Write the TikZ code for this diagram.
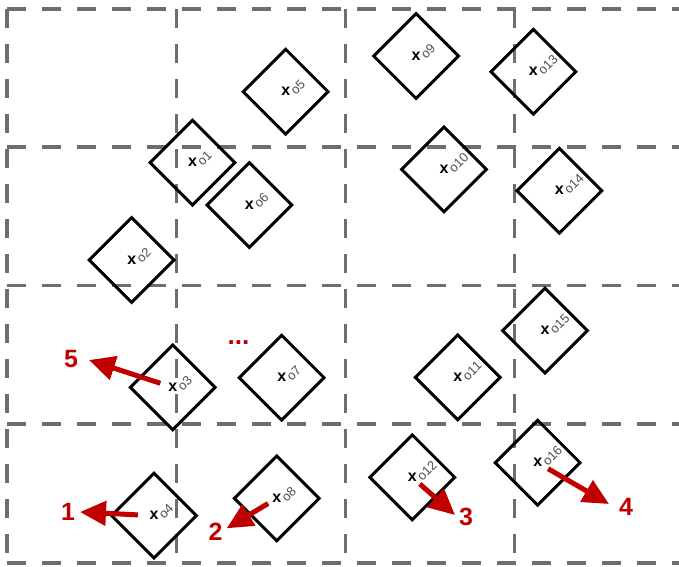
\documentclass[tikz,border=0pt]{standalone}
\usepackage{fontspec}
\setmainfont{Liberation Sans}
\usepackage{tikz}
\usetikzlibrary{shapes.geometric, arrows.meta}

\definecolor{gridgray}{HTML}{6E6E6E}
\definecolor{tagred}{HTML}{C00000}
\definecolor{taggray}{HTML}{505050}

\begin{document}
\begin{tikzpicture}[x=1pt, y=-1pt, line width=3pt,
    raster/.style={draw=gridgray, line width=3.5pt, dash pattern=on 19pt off 16pt},
    obj/.style={draw=black, diamond, aspect=1, minimum size=86pt, inner sep=0pt},
    cen/.style={font=\fontsize{16}{16}\selectfont\bfseries, inner sep=0pt},
    lab/.style={font=\fontsize{13}{13}\selectfont, text=taggray, rotate=45, anchor=base west, inner sep=0pt},
    mv/.style={draw=tagred, line width=5pt, -{Triangle[length=26pt, width=24pt]}},
    num/.style={font=\fontsize{25}{25}\selectfont\bfseries, text=tagred, inner sep=0pt}]

\useasboundingbox (0, 0) rectangle (679, 566);

% draw dashed grid
\draw[raster] (7, 9) -- (679, 9);
\draw[raster] (7, 147) -- (679, 147);
\draw[raster] (7, 285.5) -- (679, 285.5);
\draw[raster] (7, 424) -- (679, 424);
\draw[raster] (7, 563) -- (679, 563);
\draw[raster] (7, 9) -- (7, 563);
\draw[raster] (176.5, 9) -- (176.5, 563);
\draw[raster] (345.5, 9) -- (345.5, 563);
\draw[raster] (514.5, 9) -- (514.5, 563);

% draw objects
\node[obj] (b1) at (192.5, 162.7) {};
\node[obj] (b2) at (131.7, 260) {};
\node[obj] (b3) at (172.7, 387.3) {};
\node[obj] (b4) at (154, 515.7) {};
\node[obj] (b5) at (285.7, 91.7) {};
\node[obj] (b6) at (249.3, 205) {};
\node[obj] (b7) at (281.7, 377.7) {};
\node[obj] (b8) at (276.7, 498.3) {};
\node[obj] (b9) at (416, 56) {};
\node[obj] (b10) at (444, 169.3) {};
\node[obj] (b11) at (457.7, 377.3) {};
\node[obj] (b12) at (412.3, 477.3) {};
\node[obj] (b13) at (533.3, 71.7) {};
\node[obj] (b14) at (559.3, 190.7) {};
\node[obj] (b15) at (545, 330.7) {};
\node[obj] (b16) at (537.7, 462.7) {};

% draw centres
\node[cen] (c1) at (b1.center) {x};
\node[cen] (c2) at (b2.center) {x};
\node[cen] (c3) at (b3.center) {x};
\node[cen] (c4) at (b4.center) {x};
\node[cen] (c5) at (b5.center) {x};
\node[cen] (c6) at (b6.center) {x};
\node[cen] (c7) at (b7.center) {x};
\node[cen] (c8) at (b8.center) {x};
\node[cen] (c9) at (b9.center) {x};
\node[cen] (c10) at (b10.center) {x};
\node[cen] (c11) at (b11.center) {x};
\node[cen] (c12) at (b12.center) {x};
\node[cen] (c13) at (b13.center) {x};
\node[cen] (c14) at (b14.center) {x};
\node[cen] (c15) at (b15.center) {x};
\node[cen] (c16) at (b16.center) {x};

% draw tags
\node[lab] (t1) at ([shift={(9, 5)}]c1.center) {o1};
\node[lab] (t2) at ([shift={(9, 5)}]c2.center) {o2};
\node[lab] (t3) at ([shift={(9, 5)}]c3.center) {o3};
\node[lab] (t4) at ([shift={(9, 5)}]c4.center) {o4};
\node[lab] (t5) at ([shift={(9, 5)}]c5.center) {o5};
\node[lab] (t6) at ([shift={(9, 5)}]c6.center) {o6};
\node[lab] (t7) at ([shift={(9, 5)}]c7.center) {o7};
\node[lab] (t8) at ([shift={(9, 5)}]c8.center) {o8};
\node[lab] (t9) at ([shift={(9, 5)}]c9.center) {o9};
\node[lab] (t10) at ([shift={(9, 5)}]c10.center) {o10};
\node[lab] (t11) at ([shift={(9, 5)}]c11.center) {o11};
\node[lab] (t12) at ([shift={(9, 5)}]c12.center) {o12};
\node[lab] (t13) at ([shift={(9, 5)}]c13.center) {o13};
\node[lab] (t14) at ([shift={(9, 5)}]c14.center) {o14};
\node[lab] (t15) at ([shift={(9, 5)}]c15.center) {o15};
\node[lab] (t16) at ([shift={(9, 5)}]c16.center) {o16};

% draw moves
\coordinate (e1) at (80, 512);
\coordinate (e2) at (226.7, 528.3);
\coordinate (e3) at (455, 515);
\coordinate (e4) at (609, 504);
\coordinate (e5) at (89, 360);
\draw[mv, shorten <=16pt] (c4.center) -- (e1);
\draw[mv, shorten <=10pt] (c8.center) -- (e2);
\draw[mv, shorten <=10pt] (c12.center) -- (e3);
\draw[mv, shorten <=12pt] (c16.center) -- (e4);
\draw[mv, shorten <=13pt] (c3.center) -- (e5);

\node[num] (n1) at (68, 512) {1};
\node[num] (n2) at (215.5, 532) {2};
\node[num] (n3) at (466, 517) {3};
\node[num] (n4) at (626, 507) {4};
\node[num] (n5) at (71, 359) {5};
\node[num, font=\fontsize{26}{26}\selectfont\bfseries, anchor=base] (more) at (238.5, 344) {...};

\end{tikzpicture}
\end{document}
